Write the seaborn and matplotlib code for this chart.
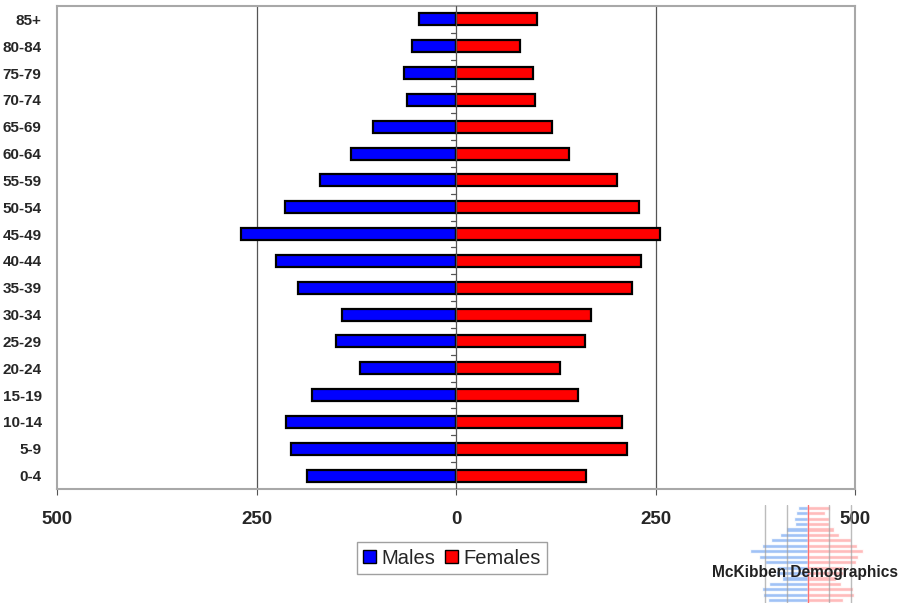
import numpy as np
import pandas as pd
import seaborn as sns
import matplotlib.pyplot as plt
from matplotlib.patches import Patch

ages = ["85+", "80-84", "75-79", "70-74", "65-69", "60-64", "55-59", "50-54", "45-49",
        "40-44", "35-39", "30-34", "25-29", "20-24", "15-19", "10-14", "5-9", "0-4"]
males = [46, 55, 65, 62, 104, 131, 170, 214, 269, 226, 198, 143, 151, 120, 181, 213, 207, 187]
females = [102, 80, 97, 99, 120, 142, 202, 229, 256, 232, 221, 169, 162, 130, 153, 208, 214, 163]
xticks = [-500, -250, 0, 250, 500]

df = pd.DataFrame({
    "age": ages * 2,
    "value": [-m for m in males] + females,
    "sex": ["Males"] * len(ages) + ["Females"] * len(ages),
})

sns.set_style("white")
plt.rcParams["font.family"] = ["Liberation Sans", "DejaVu Sans"]

fig = plt.figure(figsize=(8.99, 6.03), dpi=100)
ax = fig.add_axes([57 / 899, 1 - 489 / 603, (855 - 57) / 899, (489 - 6) / 603])

pal = {"Males": "#0000ff", "Females": "#ff0000"}
sns.barplot(data=df, x="value", y="age", hue="sex", order=ages, orient="h", dodge=False,
            palette=pal, saturation=1, edgecolor="black", linewidth=1.6, width=0.45,
            legend=False, ax=ax)

ax.set_xlim(-500, 500)
ax.set_ylim(len(ages) - 0.5, -0.5)
for v in [-250, 250]:
    ax.axvline(v, color="#555555", lw=0.9, zorder=0)
ax.axvline(0, color="#555555", lw=0.9, zorder=3)
# small ticks on the zero axis between age groups
for y in np.arange(0.5, len(ages) - 0.5, 1):
    ax.plot([-6, 0], [y, y], color="#555555", lw=0.9, zorder=3)

ax.set_xticks(xticks)
ax.set_xticklabels([str(abs(t)) for t in xticks], fontsize=13.5, fontweight="bold")
ax.tick_params(axis="x", length=4, color="#555555", pad=12, bottom=True)
ax.tick_params(axis="y", length=0, pad=11, labelsize=11)
for lab in ax.get_yticklabels():
    lab.set_fontweight("bold")
ax.set_xlabel("")
ax.set_ylabel("")
for s in ax.spines.values():
    s.set_color("#a8a8a8")
    s.set_linewidth(1.5)

handles = [Patch(facecolor=pal[k], edgecolor="black", label=k) for k in ["Males", "Females"]]
fig.legend(handles=handles, loc="center", bbox_to_anchor=(452 / 899, 1 - 558 / 603), ncol=2,
           fontsize=14.5, frameon=True, fancybox=False, edgecolor="#888888",
           handlelength=0.65, handleheight=0.65, handletextpad=0.25, columnspacing=0.5,
           borderpad=0.3)

# faded logo
lax = fig.add_axes([742 / 899, 0, 132 / 899, 98 / 603])
lax.barh(range(len(ages)), [-m for m in males], height=0.75, color="#8fb8f5", alpha=0.85)
lax.barh(range(len(ages)), females, height=0.75, color="#ffb0b0", alpha=0.85)
lax.set_xlim(-307, 307)
lax.set_ylim(len(ages) - 0.5, -0.5)
for v in [-200, -100, 100, 200]:
    lax.axvline(v, color="#a0a0a0", lw=1, zorder=3, alpha=0.7)
lax.axvline(0, color="#ff7070", lw=1, zorder=3)
lax.axis("off")
lax.patch.set_alpha(0)
fig.text(805 / 899, 1 - 572 / 603, "McKibben Demographics", ha="center", va="center",
         fontsize=11.2, fontweight="bold", color="#222222")

fig.savefig("out.png", dpi=100)
